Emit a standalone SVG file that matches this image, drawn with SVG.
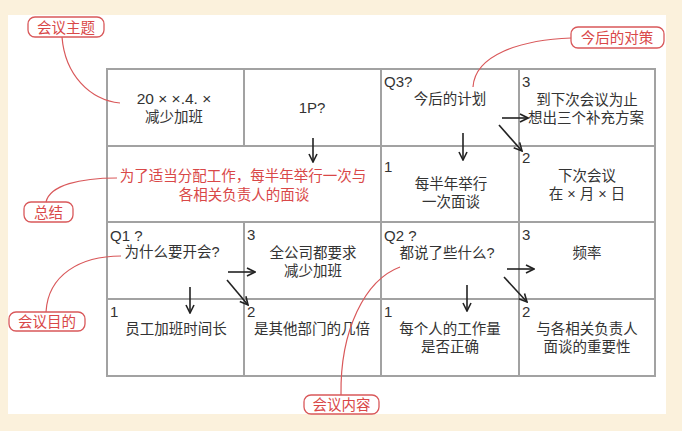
<svg xmlns="http://www.w3.org/2000/svg" width="682" height="431" viewBox="0 0 682 431">
<defs>
<marker id="ah" viewBox="0 0 10 10" refX="9" refY="5" markerWidth="10" markerHeight="10" markerUnits="userSpaceOnUse" orient="auto">
<path d="M1,1 L9,5 L1,9" fill="none" stroke="#222" stroke-width="1.6"/>
</marker>
<style>
.cell{fill:#fff;stroke:#a2a2a2;stroke-width:2}
.t{font-family:"Liberation Sans","Noto Sans CJK SC",sans-serif;font-size:14.5px;fill:#333}
.c{text-anchor:middle}
.red{fill:#d94848}
.lab{fill:#fff;stroke:#d9585a;stroke-width:1.3}
.curve{fill:none;stroke:#d9585a;stroke-width:1.2}
.arr{fill:none;stroke:#222;stroke-width:1.6;marker-end:url(#ah)}
</style>
</defs>
<rect x="0" y="0" width="682" height="431" fill="#fbf1dc"/>
<rect x="8" y="15" width="658" height="399" fill="#fff"/>

<g id="cell-topic"><rect class="cell" x="107" y="69" width="137" height="77"/><text class="t c" x="174" y="104" style="font-size:15.5px">20 × ×.4. ×</text><text class="t c" x="174" y="122">减少加班</text></g>
<g id="cell-1p"><rect class="cell" x="244" y="69" width="137" height="77"/><text class="t c" x="312" y="113" style="font-size:15px">1P?</text></g>
<g id="cell-q3"><rect class="cell" x="381" y="69" width="138" height="77"/><text class="t" x="384" y="87" style="font-size:15px">Q3?</text><text class="t c" x="450" y="104">今后的计划</text></g>
<g id="cell-q3-3"><rect class="cell" x="519" y="69" width="136" height="77"/><text class="t" x="522" y="87" style="font-size:15px">3</text><text class="t c" x="587" y="105">到下次会议为止</text><text class="t c" x="586" y="123">想出三个补充方案</text></g>

<g id="cell-summary"><rect class="cell" x="107" y="146" width="274" height="76"/><text class="t c red" x="243" y="181">为了适当分配工作，每半年举行一次与</text><text class="t c red" x="244" y="200">各相关负责人的面谈</text></g>
<g id="cell-q3-1"><rect class="cell" x="381" y="146" width="138" height="76"/><text class="t" x="384" y="172" style="font-size:15px">1</text><text class="t c" x="451" y="189">每半年举行</text><text class="t c" x="451" y="207">一次面谈</text></g>
<g id="cell-q3-2"><rect class="cell" x="519" y="146" width="136" height="76"/><text class="t" x="522" y="163" style="font-size:15px">2</text><text class="t c" x="587" y="181">下次会议</text><text class="t c" x="587" y="199">在 × 月 × 日</text></g>

<g id="cell-q1"><rect class="cell" x="107" y="222" width="137" height="77"/><text class="t" x="110" y="241" style="font-size:15px">Q1 ?</text><text class="t c" x="172" y="257">为什么要开会?</text></g>
<g id="cell-q1-3"><rect class="cell" x="244" y="222" width="137" height="77"/><text class="t" x="247" y="240" style="font-size:15px">3</text><text class="t c" x="313" y="258">全公司都要求</text><text class="t c" x="313" y="276">减少加班</text></g>
<g id="cell-q2"><rect class="cell" x="381" y="222" width="138" height="77"/><text class="t" x="384" y="241" style="font-size:15px">Q2 ?</text><text class="t c" x="447" y="258">都说了些什么?</text></g>
<g id="cell-q2-3"><rect class="cell" x="519" y="222" width="136" height="77"/><text class="t" x="522" y="240" style="font-size:15px">3</text><text class="t c" x="587" y="258">频率</text></g>

<g id="cell-q1-1"><rect class="cell" x="107" y="299" width="137" height="77"/><text class="t" x="110" y="317" style="font-size:15px">1</text><text class="t c" x="176" y="334">员工加班时间长</text></g>
<g id="cell-q1-2"><rect class="cell" x="244" y="299" width="137" height="77"/><text class="t" x="247" y="317" style="font-size:15px">2</text><text class="t c" x="312" y="334">是其他部门的几倍</text></g>
<g id="cell-q2-1"><rect class="cell" x="381" y="299" width="138" height="77"/><text class="t" x="384" y="317" style="font-size:15px">1</text><text class="t c" x="450" y="334">每个人的工作量</text><text class="t c" x="450" y="352">是否正确</text></g>
<g id="cell-q2-2"><rect class="cell" x="519" y="299" width="136" height="77"/><text class="t" x="522" y="317" style="font-size:15px">2</text><text class="t c" x="587" y="334">与各相关负责人</text><text class="t c" x="587" y="352">面谈的重要性</text></g>

<g id="label-topic"><rect class="lab" x="28" y="17" width="76" height="20" rx="7"/><text class="t c red" x="66" y="32.5">会议主题</text></g>
<g id="label-measures"><rect class="lab" x="571" y="27" width="93" height="21" rx="7"/><text class="t c red" x="617" y="43">今后的对策</text></g>
<g id="label-summary"><rect class="lab" x="24" y="202" width="49" height="20" rx="7"/><text class="t c red" x="48.5" y="217.5">总结</text></g>
<g id="label-purpose"><rect class="lab" x="9" y="312" width="76" height="19" rx="7"/><text class="t c red" x="47" y="327">会议目的</text></g>
<g id="label-content"><rect class="lab" x="304" y="395" width="75" height="19" rx="7"/><text class="t c red" x="341.5" y="410">会议内容</text></g>

<g id="connectors">
<path class="curve" d="M62,37 C65,75 90,100 120,103"/>
<path class="curve" d="M571,38 C520,40 475,55 473,87"/>
<path class="curve" d="M46,202 C50,185 80,178 117,178"/>
<path class="curve" d="M46,312 C48,275 80,256 121,256"/>
<path class="curve" d="M341,395 C340,330 365,280 400,267"/>
<line class="arr" x1="313" y1="138" x2="313" y2="162"/>
<line class="arr" x1="463" y1="133" x2="463" y2="160"/>
<line class="arr" x1="502" y1="118" x2="528" y2="118"/>
<line class="arr" x1="499" y1="125" x2="522" y2="151"/>
<line class="arr" x1="228" y1="272" x2="255" y2="272"/>
<line class="arr" x1="227" y1="280" x2="248" y2="305"/>
<line class="arr" x1="190" y1="287" x2="190" y2="313"/>
<line class="arr" x1="507" y1="269" x2="534" y2="269"/>
<line class="arr" x1="504" y1="277" x2="527" y2="302"/>
<line class="arr" x1="467" y1="285" x2="467" y2="311"/>
</g>
</svg>
